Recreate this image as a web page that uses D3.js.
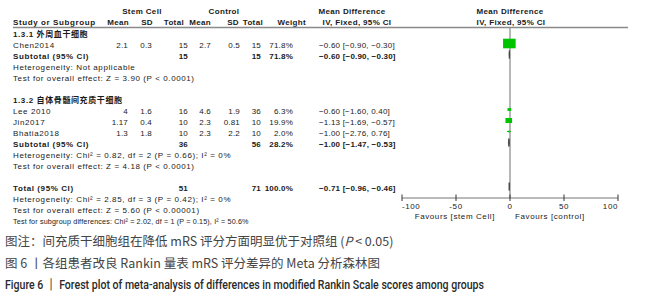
<!DOCTYPE html>
<html><head><meta charset="utf-8">
<script src="https://cdn.jsdelivr.net/npm/d3@7"></script>
<style>
html,body{margin:0;padding:0;background:#fff;}
svg{display:block;}
.t{font-family:"Liberation Sans","Noto Sans CJK SC",Arial,sans-serif;font-size:8px;letter-spacing:0.2px;fill:#1a1a1a;}
.b{font-weight:bold;}
.w{letter-spacing:0.6px;}
.h{letter-spacing:0.35px;}
</style></head>
<body>
<script>
// ---- data ----
const studies   = ["Chen2014", "Lee 2010", "Jin2017", "Bhatia2018"];
const studyGroup = [0, 1, 1, 1];
const scMean = ["2.1", "4", "1.17", "1.3"];
const scSD   = ["0.3", "1.6", "0.4", "1.8"];
const scN    = [15, 16, 10, 10];
const ctMean = ["2.7", "4.6", "2.3", "2.3"];
const ctSD   = ["0.5", "1.9", "0.81", "2.2"];
const ctN    = [15, 36, 10, 10];
const weight = [71.8, 6.3, 19.9, 2.0];
const md     = [-0.60, -0.60, -1.13, -1.00];
const mdLo   = [-0.90, -1.60, -1.69, -2.76];
const mdHi   = [-0.30, 0.40, -0.57, 0.76];

const groups    = ["1.3.1 外周血干细胞", "1.3.2 自体骨髓间充质干细胞"];
const subScN    = [15, 36];
const subCtN    = [15, 56];
const subWeight = [71.8, 28.2];
const subMd     = [-0.60, -1.00];
const subLo     = [-0.90, -1.47];
const subHi     = [-0.30, -0.53];
const subHet    = ["Heterogeneity: Not applicable", "Heterogeneity: Chi² = 0.82, df = 2 (P = 0.66); I² = 0%"];
const subTest   = ["Test for overall effect: Z = 3.90 (P < 0.0001)", "Test for overall effect: Z = 4.18 (P < 0.0001)"];

const totScN = 51, totCtN = 71, totWeight = 100.0, totMd = -0.71, totLo = -0.96, totHi = -0.46;
const totHet  = "Heterogeneity: Chi² = 2.85, df = 3 (P = 0.42); I² = 0%";
const totTest = "Test for overall effect: Z = 5.60 (P < 0.00001)";
const subDiff = "Test for subgroup differences: Chi² = 2.02, df = 1 (P = 0.15), I² = 50.6%";

const axisTicks = [-100, -50, 0, 50, 100];
const axisLabels = ["-100", "-50", "0", "50", "100"];
const favourLeft = "Favours [stem Cell]", favourRight = "Favours [control]";

// ---- layout ----
const W = 669, H = 300;
const svg = d3.select("body").append("svg").attr("width", W).attr("height", H);
const x = d3.scaleLinear().domain([-100, 100]).range([402, 618]);
const row = d3.scaleLinear().domain([0, 17]).range([37, 224]);
const f2 = d3.format(".2f"), f1 = d3.format(".1f");
const ci = (m, l, h) => `${f2(m)} [${f2(l)}, ${f2(h)}]`;

const col = {study: 13, scMean: 128, scSD: 152, scN: 188, ctMean: 211, ctSD: 240, ctN: 261, w: 293, ci: 319};

function txt(xp, yp, s, anchor, bold, extra) {
  return svg.append("text").attr("class", "t" + (bold ? " b" : "") + (extra ? " " + extra : ""))
    .attr("x", xp).attr("y", yp).attr("text-anchor", anchor || "start").text(s);
}

// headers
txt(142, 14, "Stem Cell", "middle", true, "h");
txt(224, 14, "Control", "middle", true, "h");
txt(352, 14, "Mean Difference", "middle", true, "h");
txt(510, 14, "Mean Difference", "middle", true, "h");
txt(col.study, 25, "Study or Subgroup", "start", true, "w");
txt(129, 25, "Mean", "end", true, "h");
txt(153, 25, "SD", "end", true, "h");
txt(184, 25, "Total", "end", true, "h");
txt(211, 25, "Mean", "end", true, "h");
txt(239, 25, "SD", "end", true, "h");
txt(263, 25, "Total", "end", true, "h");
txt(306, 25, "Weight", "end", true, "h");
txt(357, 25, "IV, Fixed, 95% CI", "middle", true, "h");
txt(511, 25, "IV, Fixed, 95% CI", "middle", true, "h");

svg.append("line").attr("x1", 13).attr("x2", 628).attr("y1", 27.5).attr("y2", 27.5)
  .attr("stroke", "#8a8a8a").attr("stroke-width", 1.3);

// zero line
svg.append("line").attr("x1", x(0)).attr("x2", x(0)).attr("y1", 27.5).attr("y2", 198)
  .attr("stroke", "#999").attr("stroke-width", 1.4);

const green = "#00c400";
function diamond(yc, m, l, h) {
  const hh = 4;
  svg.append("path")
    .attr("d", `M${x(l)},${yc}L${x(m)},${yc - hh}L${x(h)},${yc}L${x(m)},${yc + hh}Z`)
    .attr("fill", "#333").attr("stroke", "#444").attr("stroke-width", 0.9);
}

// rows
let k = 0;
const groupStart = [0, 6];
groups.forEach((g, gi) => {
  k = groupStart[gi];
  txt(col.study, row(k), g, "start", true, "w");
  k++;
  studies.forEach((s, i) => {
    if (studyGroup[i] !== gi) return;
    const y = row(k);
    txt(col.study, y, s, "start", false, "w");
    txt(col.scMean, y, scMean[i], "end");
    txt(col.scSD, y, scSD[i], "end");
    txt(col.scN, y, scN[i], "end");
    txt(col.ctMean, y, ctMean[i], "end");
    txt(col.ctSD, y, ctSD[i], "end");
    txt(col.ctN, y, ctN[i], "end");
    txt(col.w, y, f1(weight[i]) + "%", "end");
    txt(col.ci, y, ci(md[i], mdLo[i], mdHi[i]));
    const yc = y - 4.5;
    svg.append("line").attr("x1", x(mdLo[i])).attr("x2", x(mdHi[i])).attr("y1", yc).attr("y2", yc)
      .attr("stroke", green).attr("stroke-width", 1);
    const s2 = Math.sqrt(weight[i]) * 1.35;
    svg.append("rect").attr("x", x(md[i]) - s2 * 0.55).attr("y", yc - s2 * 0.42)
      .attr("width", s2 * 1.1).attr("height", s2 * 0.84).attr("fill", green);
    k++;
  });
  const ys = row(k);
  txt(col.study, ys, "Subtotal (95% CI)", "start", true, "w");
  txt(col.scN, ys, subScN[gi], "end", true);
  txt(col.ctN, ys, subCtN[gi], "end", true);
  txt(col.w, ys, f1(subWeight[gi]) + "%", "end", true);
  txt(col.ci, ys, ci(subMd[gi], subLo[gi], subHi[gi]), "start", true);
  diamond(ys - 4.5, subMd[gi], subLo[gi], subHi[gi]);
  k++;
  txt(col.study, row(k), subHet[gi], "start", false, "w"); k++;
  txt(col.study, row(k), subTest[gi], "start", false, "w"); k++;
});

k = 14;
const yt = row(k);
txt(col.study, yt, "Total (95% CI)", "start", true, "w");
txt(col.scN, yt, totScN, "end", true);
txt(col.ctN, yt, totCtN, "end", true);
txt(col.w, yt, f1(totWeight) + "%", "end", true);
txt(col.ci, yt, ci(totMd, totLo, totHi), "start", true);
diamond(yt - 4.5, totMd, totLo, totHi);
txt(col.study, row(15), totHet, "start", false, "w");
txt(col.study, row(16), totTest, "start", false, "w");
txt(col.study, row(17), subDiff).style("font-size", "7.2px").style("letter-spacing", "0.15px");

// axis
const ay = 198;
const ax = svg.append("g").attr("transform", `translate(0,${ay})`);
ax.append("line").attr("x1", x(-100)).attr("x2", x(100)).attr("stroke", "#777").attr("stroke-width", 1.2);
ax.selectAll("line.tk").data(axisTicks).join("line").attr("class", "tk")
  .attr("x1", d => x(d)).attr("x2", d => x(d)).attr("y1", -3.5).attr("y2", 3)
  .attr("stroke", "#333").attr("stroke-width", 1);
ax.selectAll("text").data(axisTicks).join("text").attr("class", "t")
  .style("letter-spacing", "0.6px")
  .attr("x", d => x(d)).attr("y", 11)
  .attr("text-anchor", (d, i) => i === 0 ? "start" : (i === axisTicks.length - 1 ? "end" : "middle"))
  .text((d, i) => axisLabels[i]);
txt(495, 219, favourLeft, "end", false, "w");
txt(515, 219, favourRight, "start", false, "w");

// captions
const cap = svg.append("g").style("font-family", "'Noto Sans CJK SC','Liberation Sans',sans-serif");
const c1 = cap.append("text").attr("x", 5).attr("y", 246).attr("fill", "#444").style("font-size", "12.5px");
c1.append("tspan").text("图注：间充质干细胞组在降低 mRS 评分方面明显优于对照组 (");
c1.append("tspan").style("font-style", "italic").text("P");
c1.append("tspan").text(" < 0.05)");
cap.append("text").attr("x", 5).attr("y", 268).attr("fill", "#444").style("font-size", "12.5px")
  .text("图 6 丨各组患者改良 Rankin 量表 mRS 评分差异的 Meta 分析森林图");
cap.append("text").attr("x", 5).attr("y", 289).attr("fill", "#2a2a2a")
  .style("font-family", "'Liberation Sans Narrow','Roboto','Liberation Sans',sans-serif")
  .style("font-size", "13px").style("font-weight", "500")
  .attr("textLength", 479).attr("lengthAdjust", "spacingAndGlyphs")
  .text("Figure 6 丨 Forest plot of meta-analysis of differences in modified Rankin Scale scores among groups");
</script>
</body></html>
